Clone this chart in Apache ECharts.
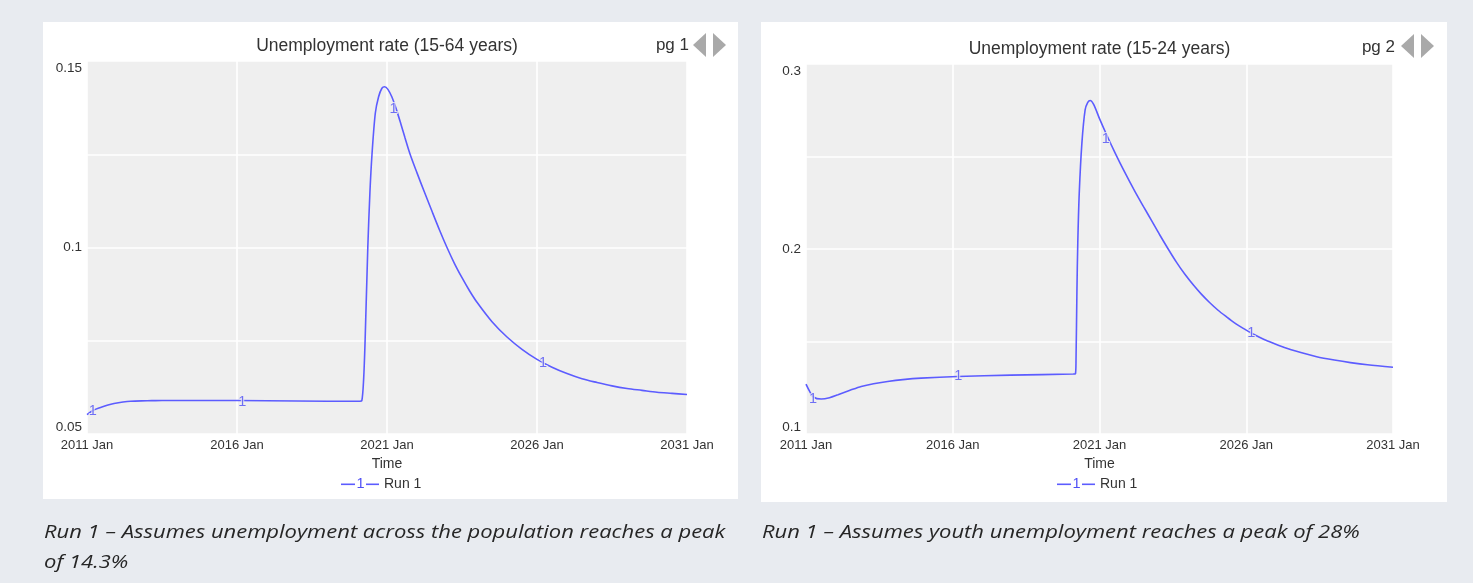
<!DOCTYPE html>
<html>
<head>
<meta charset="utf-8">
<script src="https://cdn.jsdelivr.net/npm/echarts@6/dist/echarts.min.js"></script>
<style>
  html, body { margin: 0; padding: 0; background: #e8ebf0; }
  #wrap { position: relative; width: 1473px; height: 583px; overflow: hidden; }
  .panel { position: absolute; background: #ffffff; }
  #chart { position: absolute; left: 0; top: 0; width: 1473px; height: 583px; }
</style>
</head>
<body>
<div id="wrap">
  <div class="panel" style="left:43px;top:22px;width:695px;height:477px"></div>
  <div class="panel" style="left:761px;top:22px;width:686px;height:480px"></div>
  <div id="chart"></div>
</div>
<script>
// ---- simulation output: unemployment rate, Run 1 ----
const START_YEAR = 2011;
const END_YEAR = 2031;
const X_STEP = 5;

const titles = ['Unemployment rate (15-64 years)', 'Unemployment rate (15-24 years)'];
const pageLabels = ['pg 1', 'pg 2'];
const xAxisName = 'Time';
const runName = 'Run 1';
const runTag = '1';
const captionsLeft = ['Run 1 \u2013 Assumes unemployment across the population reaches a peak', 'of 14.3%'];
const captionsRight = ['Run 1 \u2013 Assumes youth unemployment reaches a peak of 28%'];

// y tick labels (grid lines are drawn at half steps)
const yTicks1564 = [0.05, 0.1, 0.15];
const yTicks1524 = [0.1, 0.2, 0.3];

// 15-64 years
const years1564 = [2011.0, 2011.2, 2011.45, 2011.7, 2011.9, 2012.2, 2012.45, 2013.0, 2013.5, 2015.0,
  2017.0, 2019.0, 2020.1, 2020.16, 2020.22, 2020.27, 2020.36, 2020.43, 2020.5, 2020.61,
  2020.72, 2020.83, 2020.92, 2021.03, 2021.16, 2021.3, 2021.46, 2021.6, 2021.77, 2022.0,
  2022.25, 2022.5, 2022.75, 2023.0, 2023.25, 2023.5, 2023.75, 2024.0, 2024.5, 2025.0,
  2025.5, 2026.0, 2026.5, 2027.0, 2027.5, 2028.0, 2028.5, 2029.0, 2029.5, 2030.0,
  2030.5, 2031.0];
const rate1564 = [0.0552, 0.0563, 0.0571, 0.0578, 0.0582, 0.0586, 0.0588, 0.0589, 0.0590, 0.0590,
  0.0589, 0.0588, 0.0588, 0.0589, 0.0645, 0.0750, 0.1000, 0.1146, 0.1250, 0.1360,
  0.1404, 0.1427, 0.1431, 0.1424, 0.1404, 0.1373, 0.1332, 0.1294, 0.1250, 0.1200,
  0.1148, 0.1097, 0.1047, 0.1000, 0.0957, 0.0919, 0.0884, 0.0853, 0.0801, 0.0760,
  0.0727, 0.0700, 0.0679, 0.0662, 0.0648, 0.0638, 0.0629, 0.0622, 0.0617, 0.0612,
  0.0609, 0.0606];
const tagYears1564 = [2011.19, 2016.18, 2021.22, 2026.2];
const tagRates1564 = [0.0561, 0.0587, 0.1371, 0.0690];

// 15-24 years
const years1524 = [2011.0, 2011.12, 2011.25, 2011.52, 2011.8, 2012.09, 2012.5, 2012.88, 2013.3, 2013.78,
  2014.3, 2014.92, 2016.16, 2017.97, 2020.1, 2020.18, 2020.2, 2020.23, 2020.26, 2020.31,
  2020.4, 2020.51, 2020.6, 2020.68, 2020.8, 2021.0, 2021.25, 2021.53, 2021.85, 2022.21,
  2022.5, 2022.78, 2023.05, 2023.34, 2023.62, 2023.91, 2024.2, 2024.47, 2024.75, 2025.04,
  2025.32, 2025.6, 2025.9, 2026.17, 2026.45, 2026.73, 2027.3, 2027.86, 2028.4, 2029.0,
  2029.55, 2030.13, 2031.0];
const rate1524 = [0.1270, 0.1232, 0.1200, 0.1189, 0.1196, 0.1212, 0.1236, 0.1257, 0.1272, 0.1284,
  0.1294, 0.1302, 0.1311, 0.1318, 0.1324, 0.1326, 0.1401, 0.1762, 0.2032, 0.2302,
  0.2572, 0.2752, 0.2792, 0.2803, 0.2782, 0.2705, 0.2615, 0.2520, 0.2418, 0.2310,
  0.2229, 0.2152, 0.2077, 0.2000, 0.1929, 0.1863, 0.1805, 0.1756, 0.1711, 0.1669,
  0.1634, 0.1601, 0.1571, 0.1546, 0.1523, 0.1503, 0.1467, 0.1440, 0.1418, 0.1400,
  0.1386, 0.1374, 0.1361];
const tagYears1524 = [2011.24, 2016.19, 2021.21, 2026.17];
const tagRates1524 = [0.1189, 0.1315, 0.2596, 0.1545];

// ---- styling ----
const FONT = "'Liberation Sans', Arial, sans-serif";
const CAPTION_FONT = "italic 19px 'Open Sans', 'Liberation Sans', sans-serif";
const TEXT = '#333333';
const LINE_BLUE = '#5c5cff';
const TAG_BLUE = '#4f4ff5';
const PLOT_BG = '#efefef';

const grids = [
  { left: 87, top: 61, width: 600, height: 373 },
  { left: 806, top: 64, width: 587, height: 370 }
];

function toXY(years, rates) {
  return years.map((y, i) => [y - START_YEAR, rates[i]]);
}
function fmtNum(v) {
  return String(parseFloat(v.toFixed(4)));
}

function makeXAxis(idx) {
  return {
    type: 'value', gridIndex: idx,
    min: 0, max: END_YEAR - START_YEAR, interval: X_STEP,
    name: xAxisName, nameLocation: 'middle', nameGap: 23,
    nameTextStyle: { fontFamily: FONT, fontSize: 14, color: TEXT },
    axisLine: { show: false }, axisTick: { show: false },
    axisLabel: {
      fontFamily: FONT, fontSize: 13, color: TEXT, margin: 5,
      formatter: v => (START_YEAR + Math.round(v)) + ' Jan'
    },
    splitLine: { show: true, lineStyle: { color: '#ffffff', width: 1.6 } }
  };
}
function makeYAxis(idx, ticks) {
  const step = ticks[1] - ticks[0];
  return {
    type: 'value', gridIndex: idx,
    min: ticks[0], max: ticks[ticks.length - 1], interval: step / 2,
    axisLine: { show: false }, axisTick: { show: false },
    axisLabel: {
      fontFamily: FONT, fontSize: 13.5, color: TEXT, margin: 5,
      verticalAlignMinLabel: 'bottom', verticalAlignMaxLabel: 'top',
      formatter: v => ticks.some(t => Math.abs(t - v) < 1e-9) ? fmtNum(v) : ''
    },
    splitLine: { show: true, lineStyle: { color: '#ffffff', width: 1.6 } }
  };
}
function lineSeries(idx, years, rates) {
  return {
    type: 'line', name: runName, xAxisIndex: idx, yAxisIndex: idx,
    data: toXY(years, rates), showSymbol: false,
    smooth: 0.3,
    lineStyle: { color: LINE_BLUE, width: 1.6 }, z: 3
  };
}
function tagSeries(idx, years, rates) {
  return {
    type: 'scatter', xAxisIndex: idx, yAxisIndex: idx,
    data: toXY(years, rates), symbolSize: 1,
    itemStyle: { color: 'transparent' }, z: 5,
    label: {
      show: true, position: 'inside', formatter: runTag,
      fontFamily: FONT, fontSize: 14.5, color: TAG_BLUE,
      textBorderColor: PLOT_BG, textBorderWidth: 2
    }
  };
}

function titleBlock(g, title, page, titleY, pageRight, pageY, arrowX, arrowY) {
  const cx = g.left + g.width / 2;
  return [
    { type: 'text', x: cx, y: titleY, style: { text: title, font: '17.5px ' + FONT, fill: TEXT, align: 'center', verticalAlign: 'middle' } },
    { type: 'text', x: pageRight, y: pageY, style: { text: page, font: '17px ' + FONT, fill: TEXT, align: 'right', verticalAlign: 'middle' } },
    { type: 'polygon', shape: { points: [[arrowX, arrowY], [arrowX + 13, arrowY - 12], [arrowX + 13, arrowY + 12]] }, style: { fill: '#a9a9a9' } },
    { type: 'polygon', shape: { points: [[arrowX + 20, arrowY - 12], [arrowX + 20, arrowY + 12], [arrowX + 33, arrowY]] }, style: { fill: '#a9a9a9' } }
  ];
}
function legendBlock(x0, y) {
  return [
    { type: 'line', shape: { x1: x0, y1: y, x2: x0 + 14, y2: y }, style: { stroke: LINE_BLUE, lineWidth: 1.6 } },
    { type: 'text', x: x0 + 19.5, y: y, style: { text: runTag, font: '14.5px ' + FONT, fill: TAG_BLUE, align: 'center', verticalAlign: 'middle' } },
    { type: 'line', shape: { x1: x0 + 25, y1: y, x2: x0 + 38, y2: y }, style: { stroke: LINE_BLUE, lineWidth: 1.6 } },
    { type: 'text', x: x0 + 43, y: y, style: { text: runName, font: '14px ' + FONT, fill: TEXT, align: 'left', verticalAlign: 'middle' } }
  ];
}
function captionBlock(x, y, lines) {
  return lines.map((t, i) => ({
    type: 'text', x: x, y: y + i * 30, scaleX: 1.157,
    style: { text: t, font: CAPTION_FONT, fill: '#262626', align: 'left', verticalAlign: 'middle' }
  }));
}

const chart = echarts.init(document.getElementById('chart'), null, { renderer: 'canvas' });
chart.setOption({
  animation: false,
  backgroundColor: 'transparent',
  grid: grids.map(g => Object.assign({ show: true, backgroundColor: PLOT_BG, borderWidth: 0 }, g)),
  xAxis: [makeXAxis(0), makeXAxis(1)],
  yAxis: [makeYAxis(0, yTicks1564), makeYAxis(1, yTicks1524)],
  series: [
    lineSeries(0, years1564, rate1564),
    tagSeries(0, tagYears1564, tagRates1564),
    lineSeries(1, years1524, rate1524),
    tagSeries(1, tagYears1524, tagRates1524)
  ],
  graphic: [].concat(
    titleBlock(grids[0], titles[0], pageLabels[0], 46.5, 689, 45, 693, 45),
    titleBlock(grids[1], titles[1], pageLabels[1], 49.5, 1395, 47.5, 1401, 46),
    legendBlock(341, 484.3),
    legendBlock(1057, 484.3),
    captionBlock(44, 533, captionsLeft),
    captionBlock(762, 533, captionsRight)
  )
});
</script>
</body>
</html>
